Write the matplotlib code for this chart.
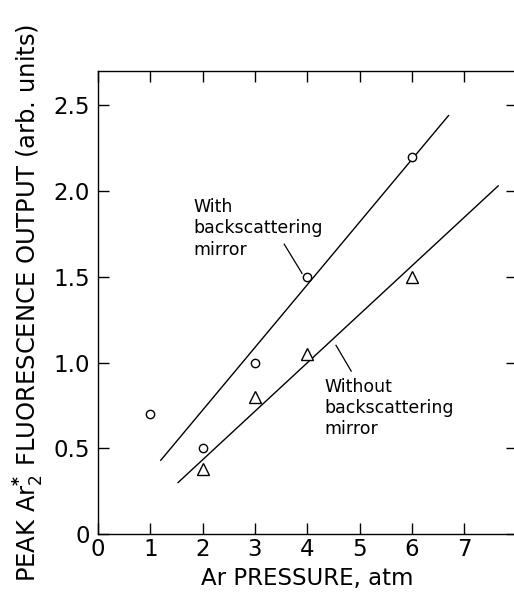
import matplotlib
matplotlib.use("Agg")
import matplotlib.pyplot as plt

# Data
pressure_with = [1, 2, 3, 4, 6]
output_with = [0.70, 0.50, 1.00, 1.50, 2.20]
pressure_without = [2, 3, 4, 6]
output_without = [0.38, 0.80, 1.05, 1.50]

fit_with_x = [1.2, 6.7]
fit_with_y = [0.43, 2.44]
fit_without_x = [1.53, 7.65]
fit_without_y = [0.30, 2.03]

xticks = [0, 1, 2, 3, 4, 5, 6, 7]
xtick_labels = ["0", "1", "2", "3", "4", "5", "6", "7"]
yticks = [0, 0.5, 1.0, 1.5, 2.0, 2.5]
ytick_labels = ["0", "0.5", "1.0", "1.5", "2.0", "2.5"]

plt.rcParams['font.family'] = ['DejaVu Sans']

fig = plt.figure(figsize=(5.14, 5.99), dpi=100)
ax = fig.add_axes([98/514, 65/599, 418.5/514, 463/599])

ax.plot(fit_with_x, fit_with_y, color='black', lw=1.0)
ax.plot(fit_without_x, fit_without_y, color='black', lw=1.0)
ax.plot(pressure_with, output_with, linestyle='none', marker='o', ms=6,
        mfc='white', mec='black', mew=1.0, zorder=3)
ax.plot(pressure_without, output_without, linestyle='none', marker='^', ms=8,
        mfc='white', mec='black', mew=1.0, zorder=3)

ax.set_xlim(0, 8)
ax.set_ylim(0, 2.7)
ax.set_xticks(xticks)
ax.set_xticklabels(xtick_labels)
ax.set_yticks(yticks)
ax.set_yticklabels(ytick_labels)
ax.tick_params(direction='in', length=8, width=1.0, labelsize=16.5,
               top=True, right=True)
ax.tick_params(axis='y', pad=6)
ax.tick_params(axis='x', pad=3)
for s in ax.spines.values():
    s.set_linewidth(1.0)
ax.spines['right'].set_visible(False)

ax.set_xlabel("Ar PRESSURE, atm", fontsize=16.5, labelpad=4)
ax.set_ylabel(r"PEAK Ar$_2^{\mathbf{*}}$ FLUORESCENCE OUTPUT (arb. units)",
              fontsize=17.5, labelpad=5)

ax.text(1.82, 1.96, "With\nbackscattering\nmirror", fontsize=12.5,
        va='top', ha='left', linespacing=1.25)
ax.plot([3.56, 3.9], [1.69, 1.52], color='black', lw=0.9)

ax.text(4.32, 0.91, "Without\nbackscattering\nmirror", fontsize=12.5,
        va='top', ha='left', linespacing=1.2)
ax.plot([4.55, 4.84], [1.10, 0.95], color='black', lw=0.9)

fig.savefig("out.png", dpi=100)
